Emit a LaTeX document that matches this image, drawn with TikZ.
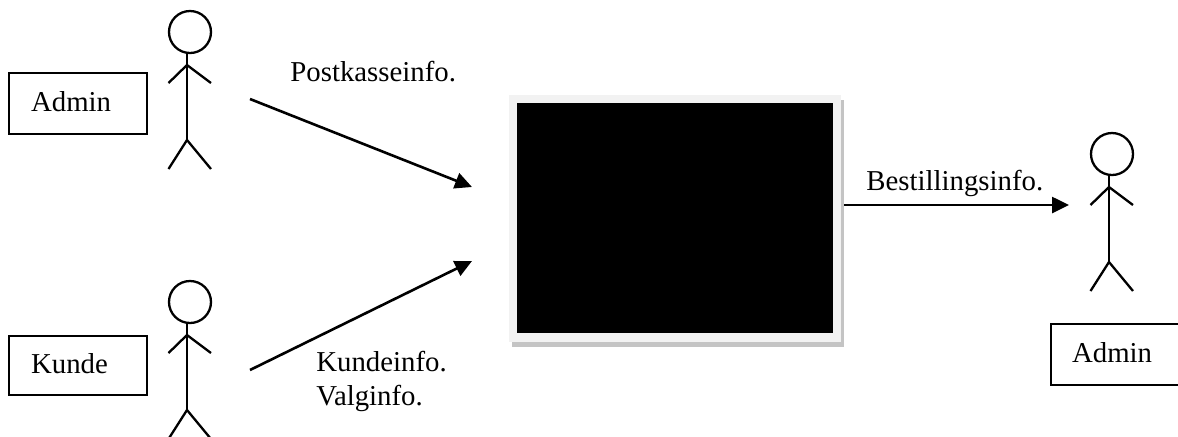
\documentclass[tikz,border=0pt]{standalone}
\usepackage{fontspec}
\setmainfont{Liberation Serif}
\usetikzlibrary{arrows.meta}
\definecolor{rammegra}{HTML}{F2F2F2}
\definecolor{skyggegra}{HTML}{C4C4C4}
\tikzset{
  rolle/.style={draw,line width=1.1pt,anchor=north west,inner xsep=11pt,inner ysep=0pt,
    text width=47pt,text depth=2pt,minimum height=30.5pt,align=left},
  tekst/.style={anchor=base west,inner sep=0pt},
  flyt/.style={line width=1.3pt,-{Triangle[length=8.5pt,width=8pt]}},
  figur/.style={line width=1.15pt},
  flate/.style={anchor=north west,inner sep=0pt}
}
\begin{document}
\begin{tikzpicture}[x=0.5pt,y=-0.5pt,font=\fontsize{14.4}{17}\selectfont]
  \clip (0,0) rectangle (1178,436);
  \fill[white] (0,0) rectangle (1178,436);

  % Stick figures
  \foreach \dx/\dy in {0/0,0/270,922/122}{
    \begin{scope}[shift={(\dx,\dy)}]
      \draw[figur] (190,32) circle (10.5pt);
      \draw[figur] (187,53) -- (187,140);
      \draw[figur] (168.5,83) -- (187,65) -- (211,83);
      \draw[figur] (168.5,169) -- (187,140) -- (211,169);
    \end{scope}
  }

  % Boxes
  \node[rolle] (admin1) at (8,72) {Admin};
  \node[rolle,minimum height=29.5pt] (kunde) at (8,335) {Kunde};
  \node[rolle,inner xsep=10.5pt,text width=48pt] (admin2) at (1050,323) {Admin};

  % Screen
  \node[flate,fill=skyggegra,minimum width=166pt,minimum height=123.5pt] (skygge) at (512,100) {};
  \node[flate,fill=rammegra,minimum width=166pt,minimum height=123.5pt] (ramme) at (509,95) {};
  \node[flate,fill=black,minimum width=158pt,minimum height=115pt] (skjerm) at (517,103) {};

  % Free ends of the arrows
  \coordinate (admin1ut) at (250,99);
  \coordinate (kundeut) at (250,370);
  \coordinate (inn1) at (472,187);
  \coordinate (inn2) at (472,261);
  \coordinate (skjermut) at (844,205);
  \coordinate (admin2inn) at (1069,205);

  \draw[flyt] (admin1ut) -- (inn1);
  \draw[flyt] (kundeut) -- (inn2);
  \draw[flyt] (skjermut) -- (admin2inn);

  % Labels
  \node[tekst] (postkasse) at (290,81) {Postkasseinfo.};
  \node[tekst] (bestilling) at (866,190) {Bestillingsinfo.};
  \node[tekst] (kundeinfo) at (316,371) {Kundeinfo.};
  \node[tekst] (valginfo) at (316,405) {Valginfo.};
\end{tikzpicture}
\end{document}
